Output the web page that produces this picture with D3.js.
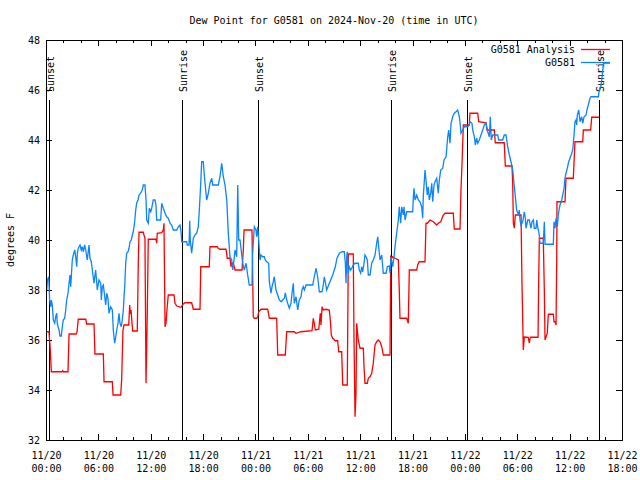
<!DOCTYPE html>
<html>
<head>
<meta charset="utf-8">
<script src="https://cdn.jsdelivr.net/npm/d3@7"></script>
<style>
  html, body { margin: 0; padding: 0; background: #fff; }
  svg { display: block; }
  text { font-family: "DejaVu Sans Mono", "Liberation Mono", monospace; font-size: 10px; fill: #000; }
</style>
</head>
<body>
<svg id="chart" width="640" height="480"></svg>
<script>
// ---------------- DATA ----------------
const chartTitle = "Dew Point for G0581 on 2024-Nov-20 (time in UTC)";
const yLabel = "degrees F";
const seriesNames = ["G0581 Analysis", "G0581"];
const startTime = "2024-11-20T00:00:00Z";
const endHours = 66;            // 11/22 18:00
const xTickHours = [0, 6, 12, 18, 24, 30, 36, 42, 48, 54, 60, 66];
const yTicks = [32, 34, 36, 38, 40, 42, 44, 46, 48];

// sun events: [hours since 11/20 00:00 UTC, label]
const sunEvents = [[0.38, "Sunset"], [15.55, "Sunrise"], [24.33, "Sunset"], [39.50, "Sunrise"], [48.28, "Sunset"], [63.42, "Sunrise"]];

// Analysis series: [hours, degrees F]
const analysis = [
[0.08,36.33],[0.34,36.33],[0.46,35.8],[0.61,34.73],[1.83,34.73],[1.91,34.77],[1.98,34.73],[2.52,34.73],[2.64,36.24],[3.44,36.24],
[3.55,36.31],[3.70,36.83],[4.55,36.83],[4.66,36.64],[5.50,36.64],[5.61,35.44],[6.57,35.44],[6.65,34.33],[7.60,34.33],[7.68,33.8],
[8.56,33.8],[8.67,34.43],[8.82,36.4],[8.94,36.6],[9.48,36.6],[9.59,37.4],[9.66,37.04],[9.74,37.2],[9.93,36.36],[10.46,36.36],
[10.58,39.2],[10.66,40.31],[11.15,40.31],[11.23,40.2],[11.34,40.07],[11.46,34.27],[11.54,35.73],[11.61,37.2],[11.72,40.03],[12.60,40.03],
[12.68,39.87],[12.75,40.27],[13.26,40.29],[13.44,40.4],[13.52,40.67],[13.64,36.53],[13.75,36.67],[13.83,37.07],[14.01,37.8],[14.67,37.8],
[14.78,37.47],[14.98,37.36],[15.47,37.31],[15.73,37.44],[15.93,37.49],[16.69,37.49],[16.88,37.23],[17.65,37.23],[17.73,38.93],[18.71,38.93],
[18.79,39.73],[19.63,39.73],[19.74,39.67],[19.94,39.63],[20.63,39.63],[20.77,39.27],[21.08,39.27],[21.20,38.93],[21.28,39.07],[21.46,39.07],
[21.66,38.8],[22.46,38.8],[22.61,39.6],[22.69,40.4],[23.60,40.4],[23.68,38.6],[23.75,36.93],[23.87,36.87],[24.14,36.87],[24.26,36.93],
[24.37,37.13],[24.64,37.23],[25.40,37.23],[25.59,36.87],[26.43,36.87],[26.55,35.4],[27.42,35.4],[27.58,36.33],[28.45,36.33],[28.65,36.27],
[29.22,36.33],[30.48,36.37],[30.63,36.87],[30.74,36.67],[30.86,36.4],[31.25,36.43],[31.43,37.07],[31.51,36.6],[31.63,37.33],[31.77,37.2],
[32.08,37.23],[32.46,37.2],[32.58,36.8],[32.69,36.2],[32.85,36.07],[33.15,35.97],[33.42,35.97],[33.54,35.53],[33.88,35.53],[34.00,34.2],
[34.52,34.2],[34.64,39.44],[35.21,39.44],[35.29,36.13],[35.41,32.93],[35.52,33.87],[35.60,36.67],[35.67,36.4],[35.78,36.0],[35.98,35.67],
[36.36,35.67],[36.44,34.93],[36.55,34.27],[36.82,34.27],[36.93,34.47],[37.13,34.53],[37.32,34.67],[37.50,35.07],[37.70,35.8],[37.89,35.93],
[38.08,36.0],[38.27,35.93],[38.47,35.73],[38.65,35.4],[39.42,35.4],[39.50,39.33],[39.61,39.27],[39.73,39.33],[39.99,39.27],[40.37,39.2],
[40.48,38.0],[40.56,36.87],[41.33,36.87],[41.51,36.67],[41.63,38.8],[42.48,38.8],[42.59,39.0],[42.77,39.13],[43.43,39.13],[43.54,40.67],
[43.69,40.67],[44.00,40.8],[44.38,40.73],[44.77,40.6],[44.95,40.67],[45.23,40.73],[45.52,41.0],[45.72,41.07],[46.67,41.07],[46.78,40.44],
[47.44,40.44],[47.55,42.0],[47.67,43.07],[47.82,44.6],[48.50,44.6],[48.58,45.07],[49.47,45.07],[49.58,44.73],[50.42,44.69],[50.53,44.4],
[51.37,44.4],[51.48,43.89],[52.51,43.89],[52.63,42.96],[53.40,42.96],[53.48,42.2],[53.55,40.67],[53.66,40.47],[53.78,41.0],[54.43,41.0],
[54.54,38.28],[54.69,35.6],[54.81,36.12],[55.26,36.11],[55.38,35.87],[55.49,36.11],[56.38,36.11],[56.45,38.28],[56.53,40.07],[56.98,40.07],
[57.10,38.0],[57.18,36.0],[57.44,36.27],[57.56,37.03],[58.13,37.03],[58.21,36.73],[58.36,36.73],[58.44,36.6],[58.52,39.2],[58.55,41.53],
[59.47,41.53],[59.58,42.47],[60.42,42.47],[60.61,43.93],[61.50,43.93],[61.57,44.4],[62.41,44.4],[62.53,44.91],[63.40,44.91]
];

// Observed series: [hours, degrees F]
const observed = [
[0.08,38.0],[0.17,38.4],[0.31,38.53],[0.42,37.6],[0.54,37.33],[0.61,37.6],[0.72,37.4],[0.84,36.8],[1.00,36.67],[1.11,36.93],
[1.23,37.07],[1.29,36.67],[1.38,36.53],[1.49,36.4],[1.60,36.16],[1.75,36.16],[1.87,36.53],[1.98,36.8],[2.14,36.87],[2.26,37.2],
[2.37,37.6],[2.52,37.87],[2.64,38.27],[2.75,38.6],[2.83,38.13],[2.90,38.53],[3.01,39.2],[3.13,39.4],[3.29,39.6],[3.40,39.33],
[3.52,38.93],[3.59,39.47],[3.70,39.67],[3.90,39.8],[4.04,39.6],[4.16,39.73],[4.27,39.53],[4.43,39.8],[4.55,39.6],[4.73,39.2],
[4.93,39.8],[5.04,39.27],[5.19,39.13],[5.31,38.8],[5.50,38.27],[5.69,38.8],[5.88,38.0],[6.07,38.4],[6.27,38.27],[6.34,37.6],
[6.45,38.13],[6.57,38.2],[6.73,37.73],[6.84,37.4],[6.96,37.87],[7.10,37.67],[7.22,37.07],[7.41,37.33],[7.60,37.2],[7.71,36.4],
[7.87,35.87],[7.99,36.13],[8.10,36.4],[8.25,36.67],[8.36,37.07],[8.48,36.67],[8.63,36.53],[8.74,36.8],[8.86,37.2],[8.94,37.73],
[9.02,38.13],[9.13,39.07],[9.25,39.47],[9.40,39.53],[9.51,39.67],[9.63,39.93],[9.77,40.0],[9.89,40.2],[10.00,40.33],[10.16,40.73],
[10.28,41.2],[10.39,41.47],[10.54,41.6],[10.66,41.8],[10.85,41.87],[11.03,42.0],[11.15,42.2],[11.34,42.2],[11.46,41.6],[11.54,40.8],
[11.72,40.67],[11.84,41.27],[12.00,41.13],[12.11,41.27],[12.29,41.6],[12.49,41.6],[12.60,41.4],[12.68,40.8],[13.14,40.8],[13.26,41.47],
[13.44,41.27],[13.64,41.07],[13.83,40.93],[14.01,40.87],[14.21,40.67],[14.40,40.6],[14.59,40.4],[14.98,40.4],[15.16,40.53],[15.35,40.6],
[15.47,40.33],[15.55,39.93],[16.12,39.93],[16.19,39.8],[16.39,39.8],[16.47,40.77],[16.53,40.0],[16.69,39.47],[16.88,40.07],[17.07,40.2],
[17.27,40.27],[17.45,40.53],[17.57,41.2],[17.73,42.27],[17.84,43.13],[18.02,43.13],[18.22,42.27],[18.41,41.6],[18.60,41.87],[18.79,42.27],
[18.99,42.47],[19.10,42.2],[19.74,42.2],[19.94,42.53],[20.13,43.07],[20.32,42.53],[20.51,42.2],[20.71,41.6],[20.89,40.27],[21.08,39.33],
[21.28,39.2],[21.39,38.8],[21.54,39.2],[21.66,39.6],[21.85,39.33],[21.97,42.2],[22.08,40.0],[22.23,40.0],[22.54,39.07],[22.72,38.8],
[22.92,39.07],[23.11,38.6],[23.29,38.2],[23.60,38.2],[23.68,39.47],[23.87,40.53],[24.06,40.4],[24.14,40.13],[24.26,40.53],[24.37,40.0],
[24.52,39.2],[24.64,39.4],[24.83,39.33],[25.01,39.33],[25.13,39.2],[25.29,39.13],[25.52,39.07],[25.59,38.33],[25.78,37.87],[25.90,38.13],
[26.04,38.33],[26.16,38.53],[26.35,38.0],[26.55,37.8],[26.73,37.6],[26.93,37.53],[27.12,37.6],[27.31,37.67],[27.42,37.89],[27.58,37.6],
[27.69,37.47],[27.88,37.27],[28.07,37.47],[28.19,37.87],[28.34,38.27],[28.45,37.47],[28.65,37.73],[28.84,37.2],[29.02,37.6],[29.22,37.73],
[29.33,38.0],[29.48,38.13],[29.60,38.0],[29.79,38.2],[30.56,38.2],[30.74,38.53],[30.94,38.87],[31.13,38.53],[31.32,37.93],[31.63,37.93],
[31.77,38.2],[31.89,38.53],[32.00,38.33],[32.16,38.0],[32.39,38.2],[32.54,38.33],[32.77,38.53],[32.92,38.67],[33.15,38.93],[33.34,39.27],
[33.61,39.47],[33.92,39.53],[34.18,39.53],[34.30,39.07],[34.38,38.27],[34.46,39.33],[34.52,39.53],[34.64,38.67],[34.75,38.93],[34.91,38.8],
[35.03,38.87],[35.21,39.0],[35.41,39.07],[35.78,39.07],[35.90,38.8],[36.06,38.67],[36.17,38.93],[36.29,38.73],[36.44,39.07],[36.55,39.4],
[36.67,39.33],[36.82,39.2],[36.93,38.6],[37.13,38.6],[37.32,39.07],[37.50,39.2],[37.70,39.4],[37.89,39.87],[38.01,40.13],[38.12,39.73],
[38.27,39.2],[38.47,39.4],[38.58,38.93],[38.65,38.67],[38.96,38.67],[39.11,38.93],[39.34,38.96],[39.42,38.67],[39.53,39.33],[39.73,38.93],
[39.88,39.33],[39.99,39.73],[40.18,40.27],[40.37,40.8],[40.48,41.33],[40.64,40.67],[40.76,41.33],[40.94,41.0],[41.02,41.33],[41.14,40.8],
[41.33,41.13],[42.02,41.13],[42.09,41.73],[42.17,42.07],[42.28,41.6],[42.48,41.8],[42.66,41.6],[42.85,41.53],[43.05,41.33],[43.16,40.87],
[43.23,41.73],[43.43,42.8],[43.54,42.4],[43.69,41.8],[43.81,42.13],[43.92,41.6],[44.08,41.87],[44.20,42.27],[44.31,41.53],[44.46,42.2],
[44.57,42.33],[44.77,42.47],[44.95,41.87],[45.07,42.4],[45.23,42.8],[45.46,42.87],[45.61,43.2],[45.84,43.33],[46.03,44.13],[46.14,44.4],
[46.29,43.87],[46.41,44.67],[46.60,44.93],[46.78,45.07],[46.98,45.13],[47.17,45.2],[47.36,44.93],[47.47,44.6],[47.55,44.27],[47.75,44.4],
[47.93,44.53],[48.32,44.53],[48.50,44.6],[48.58,44.73],[48.81,44.67],[48.89,44.4],[49.08,44.13],[49.19,43.8],[49.35,44.07],[49.47,43.87],
[49.65,44.0],[49.84,44.2],[50.04,44.4],[50.22,44.6],[50.42,44.67],[50.61,44.33],[50.80,44.13],[50.91,44.93],[51.02,44.0],[51.18,44.2],
[51.76,44.2],[51.87,44.0],[52.33,44.0],[52.51,44.2],[52.71,44.2],[52.90,43.73],[53.09,43.4],[53.28,43.13],[53.48,42.8],[53.66,42.13],
[53.78,41.73],[53.93,41.2],[54.16,41.0],[54.23,41.2],[54.31,40.8],[54.43,40.6],[54.62,40.73],[54.81,41.13],[54.92,40.87],[55.00,40.47],
[55.20,40.8],[55.38,40.8],[55.57,40.47],[55.69,40.73],[55.84,40.8],[55.95,40.47],[56.15,40.47],[56.23,40.8],[56.34,40.53],[56.52,40.2],
[56.60,39.87],[56.98,39.87],[57.10,40.73],[57.18,39.83],[58.13,39.83],[58.21,40.73],[58.32,40.47],[58.44,40.87],[58.59,40.53],[58.70,41.0],
[58.82,41.27],[58.90,41.4],[59.09,41.6],[59.21,41.8],[59.36,42.07],[59.47,42.47],[59.58,42.67],[59.73,42.87],[59.89,43.13],[60.04,43.27],
[60.24,43.47],[60.35,43.6],[60.42,43.87],[60.53,44.33],[60.61,44.73],[60.73,44.8],[60.81,44.6],[60.88,45.0],[61.04,45.2],[61.11,45.0],
[61.19,44.73],[61.38,44.93],[61.50,44.67],[61.65,44.93],[61.88,45.0],[62.03,45.27],[62.14,45.4],[62.33,45.67],[62.45,45.73],[63.29,45.73],
[63.40,46.0],[63.60,46.2],[63.74,46.6],[63.86,47.04],[63.97,47.08],[64.63,47.08]
];

// ---------------- DRAW ----------------
const W = 640, H = 480;
const M = { left: 46, right: 18, top: 40, bottom: 40 };
const svg = d3.select("#chart");
const t0 = new Date(startTime);
const toDate = h => new Date(t0.getTime() + h * 3600e3);

const x = d3.scaleUtc().domain([t0, toDate(endHours)]).range([M.left, W - M.right]);
const y = d3.scaleLinear().domain([32, 48]).range([H - M.bottom, M.top]);

const plotL = M.left, plotR = W - M.right, plotT = M.top, plotB = H - M.bottom;

// minor ticks every 2h (x)
const minorHours = d3.range(0, endHours + 0.001, 2).filter(h => h % 6 !== 0);
const tickG = svg.append("g").attr("stroke", "#000").attr("stroke-width", 1).attr("shape-rendering", "crispEdges");
minorHours.forEach(h => {
  const px = Math.round(x(toDate(h))) + 0.5;
  tickG.append("line").attr("x1", px).attr("x2", px).attr("y1", plotB).attr("y2", plotB - 3);
  tickG.append("line").attr("x1", px).attr("x2", px).attr("y1", plotT).attr("y2", plotT + 3);
});
xTickHours.forEach(h => {
  const px = Math.round(x(toDate(h))) + 0.5;
  tickG.append("line").attr("x1", px).attr("x2", px).attr("y1", plotB).attr("y2", plotB - 6);
  tickG.append("line").attr("x1", px).attr("x2", px).attr("y1", plotT).attr("y2", plotT + 6);
});
yTicks.forEach(v => {
  const py = Math.round(y(v)) + 0.5;
  tickG.append("line").attr("x1", plotL).attr("x2", plotL + 6).attr("y1", py).attr("y2", py);
  tickG.append("line").attr("x1", plotR).attr("x2", plotR - 6).attr("y1", py).attr("y2", py);
});

// x axis labels via d3 axis (ticks hidden)
const fmtDate = d3.utcFormat("%m/%d"), fmtTime = d3.utcFormat("%H:%M");
const xAxis = d3.axisBottom(x).tickValues(xTickHours.map(toDate)).tickSize(0).tickPadding(0).tickFormat("");
const xg = svg.append("g").attr("transform", `translate(0,${plotB})`).call(xAxis);
xg.select(".domain").remove();
xg.selectAll(".tick").each(function(d) {
  const g = d3.select(this);
  g.select("text").remove();
  const tx = g.append("text").attr("text-anchor", "middle").attr("fill", "#000")
    .style("font-family", "DejaVu Sans Mono").style("font-size", "10px");
  tx.append("tspan").attr("x", 0).attr("y", 19).text(fmtDate(d));
  tx.append("tspan").attr("x", 0).attr("y", 32).text(fmtTime(d));
});

// y axis labels
const yAxis = d3.axisLeft(y).tickValues(yTicks).tickSize(0).tickPadding(6).tickFormat(d3.format("d"));
const yg = svg.append("g").attr("transform", `translate(${plotL},0)`).call(yAxis);
yg.select(".domain").remove();
yg.selectAll("text").attr("fill", "#000").style("font-family", "DejaVu Sans Mono").style("font-size", "10px").attr("dy", "0.35em");

// sun event lines + labels
sunEvents.forEach(([h, label]) => {
  const px = Math.round(x(toDate(h))) + 0.5;
  svg.append("line").attr("x1", px).attr("x2", px).attr("y1", 100).attr("y2", plotB)
    .attr("stroke", "#000").attr("stroke-width", 1).attr("shape-rendering", "crispEdges");
  svg.append("text").attr("transform", `translate(${px + 4},92) rotate(-90)`)
    .attr("text-anchor", "start").text(label);
});

// data lines
const line = d3.line().x(d => x(toDate(d[0]))).y(d => y(d[1]));
svg.append("path").datum(analysis).attr("d", line)
  .attr("fill", "none").attr("stroke", "#ff0000").attr("stroke-width", 1.3).attr("stroke-linejoin", "miter");
svg.append("path").datum(observed).attr("d", line)
  .attr("fill", "none").attr("stroke", "#0a84ff").attr("stroke-width", 1.3).attr("stroke-linejoin", "miter");

// frame
svg.append("rect").attr("x", plotL + 0.5).attr("y", plotT + 0.5)
  .attr("width", plotR - plotL).attr("height", plotB - plotT)
  .attr("fill", "none").attr("stroke", "#000").attr("stroke-width", 1).attr("shape-rendering", "crispEdges");

// legend
const legColors = ["#ff0000", "#0a84ff"];
seriesNames.forEach((name, i) => {
  const ly = 49 + i * 13;
  svg.append("text").attr("x", 575).attr("y", ly).attr("dy", "0.35em").attr("text-anchor", "end").text(name);
  svg.append("line").attr("x1", 581).attr("x2", 610).attr("y1", ly + 0.5).attr("y2", ly + 0.5)
    .attr("stroke", legColors[i]).attr("stroke-width", 1.3);
});

// title
svg.append("text").attr("x", (plotL + plotR) / 2).attr("y", 20).attr("dy", "0.35em")
  .attr("text-anchor", "middle").text(chartTitle);

// y label
svg.append("text").attr("transform", `translate(10,${(plotT + plotB) / 2}) rotate(-90)`)
  .attr("dy", "0.35em").attr("text-anchor", "middle").text(yLabel);
</script>
</body>
</html>
